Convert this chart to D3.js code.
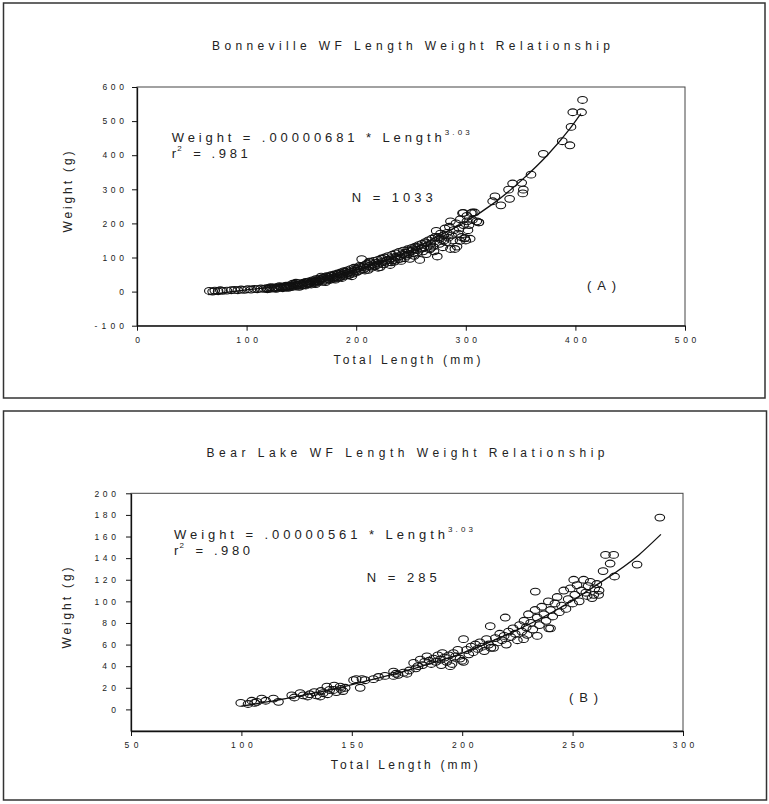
<!DOCTYPE html>
<html>
<head>
<meta charset="utf-8">
<script src="https://cdn.jsdelivr.net/npm/d3@7"></script>
<style>
	body { margin: 0; background: #fff; }
	text { font-family: "Liberation Sans", Arial, sans-serif; fill: #222; }
</style>
</head>
<body>
<script>

// ---- data ----

// Bonneville points [total length mm, weight g]
var bonnevillePoints = [
	[66,2],[69,0],[71,3],[74,1],[76,4],[78,2],[82,3],[86,4],[89,5],[92,4],[95,6],[98,5],[101,7],[104,6],
	[107,8],[110,7],[113,9],[116,8],[118,10],[119,7],
	[120,8],[121,11],[123,9],[125,12],[126,10],[128,13],[129,11],[131,14],[132,12],[134,15],[135,13],
	[136,17],[137,14],[138,11],[139,18],[140,16],[141,13],[142,19],[143,17],[144,22],[145,15],[146,20],
	[147,18],[148,25],[149,21],[150,17],[151,23],[152,26],[153,20],[154,28],[155,24],[156,22],[157,30],
	[158,26],[159,21],[160,33],
	[122,13],[127,8],[130,16],[133,10],[136,12],[139,15],[142,23],[145,26],[148,14],[151,19],[154,18],
	[157,23],[159,29],[163,22],[166,31],[169,39],[172,28],[175,36],[178,46],[181,35],[184,52],[187,40],
	[190,58],[193,48],[196,45],[199,66],[162,31],[168,35],[174,44],[180,42],[186,51],[192,55],
	[161,28],[162,25],[163,36],[164,30],[165,27],[166,38],[167,33],[168,44],[169,29],[170,40],[171,35],
	[172,32],[173,45],[174,38],[175,42],[176,34],[177,48],[178,40],[179,37],[180,50],[181,44],[182,39],
	[183,53],[184,46],[185,42],[186,56],[187,49],[188,45],[189,60],[190,52],[191,47],[192,62],[193,55],
	[194,50],[195,66],[196,58],[197,53],[198,70],[199,61],[200,56],
	[201,68],[202,60],[203,75],[205,95],[204,64],[206,72],[207,66],[208,78],[209,70],[210,82],[211,64],
	[212,75],[213,86],[214,70],[215,80],[216,90],[217,74],[218,84],[219,78],[220,93],[221,82],[222,72],
	[223,97],[224,87],[225,80],[226,100],[227,90],[228,85],[229,104],[230,93],[231,78],[232,98],[233,108],
	[234,92],[235,88],[236,112],[237,100],[238,95],[239,116],[240,104],[241,90],[242,110],[243,120],
	[244,98],[245,114],[246,105],[247,124],[248,110],[249,96],[250,118],
	[204,72],[208,62],[212,88],[216,76],[220,70],[224,96],[228,92],[232,86],[236,102],[240,96],[244,108],
	[248,120],[252,124],[256,130],[260,126],[264,142],[268,128],[272,160],[276,155],[280,150],
	[251,128],[252,112],[253,105],[254,132],[255,122],[256,115],[257,136],[258,93],[259,126],[260,140],
	[261,118],[262,130],[263,145],[264,110],[265,134],[266,150],[267,124],[268,140],[269,155],[270,132],
	[271,118],[272,148],[273,178],[274,103],[275,160],[276,140],[277,170],[278,152],[279,130],[280,165],
	[281,185],[282,145],[283,172],[284,158],[285,190],[286,206],[287,165],[288,150],[289,180],[290,125],
	[291,200],[292,132],[293,170],[294,185],[295,212],[296,160],[297,230],[298,195],[299,157],[300,150],
	[301,222],[302,180],[303,195],[304,155],[305,230],[306,210],[308,232],[310,206],[312,203],
	[294.7,149],[286,125],[299,156],[297.7,231],[306,232],[311.7,203],[301,206],[324.5,265],[326.6,279],
	[332,253],[339,299],[340,272],[342.7,317],[351,319],[352.5,299],[352,288],[359.5,343],[370.7,404],
	[388,441],[395,429],[396,483],[397.6,526],[405.6,526],[406.5,562]
];

// Bonneville fitted line, traced
var bonnevilleFit = [
	[65,-9],[80,-3],[100,5],[125,14],[150,26],[175,42],[200,63],[225,90],[250,122],[275,163],
	[300,205],[325,258],[350,324],[375,402],[395,478],[405,522]
];

// Bear Lake points [total length mm, weight g]
var bearLakePoints = [
	[99.7,6],[103,5],[104.7,8],[106,6],[107,7],[109.2,10],[111,8],[114.5,10],[116.8,7],[122.8,13],
	[124,11],[126.6,15],
	[128,13],[130,12],[131,14],[133,16],[134,13],[135.7,12],[136,17],[137,15],[138.7,21],[139,14],
	[140,18],[141.7,18],[142,22],[143,16],[144.7,21],[145,19],[146,17],[147,20],[150.8,27],[152,28],
	[153.8,20],[154.6,28],[156,27],[159.8,28],[162.1,30],
	[165,31],[168.9,35],[168.9,31],[170,33],[171,32],[173.4,34],[175,33],[176,36],[178,43],[179,38],
	[180,40],[181,46],[182,41],[183,44],[184,49],[185,45],[186,42],[187,47],[188,44],[189,50],[190,46],
	[190.5,41],[191,52],[192,48],[193,44],[194,50],[194.6,40],[195.4,42],[196,52],[197,49],[198,55],
	[199,47],[199.9,45],[200.6,65],[200.6,44],
	[202,55],[203,51],[204,58],[205,53],[206,60],[207,56],[208,62],[209,58],[210,54],[211,65],[212,60],
	[212.7,77],[213,57],[214.2,57],[215,66],[216,62],[217,70],[218,64],[219,68],[219.5,85],[220,60],
	[221,72],[222,67],[223,75],[224,70],[225,64],[226,78],[227,72],[227.8,65],[228,82],[229,76],
	[229.4,69],[230,88],[231,80],[232,74],[233,92],[233.1,109],[234,68],[234,85],[235,78],[236,95],
	[237,88],[238,82],[239,100],[239.2,75],[240,92],[240,75],
	[241,86],[242,98],[243,104],[244,90],[245,96],[246,110],[247,93],[248,102],[249,112],[250,98],
	[250.5,120],[251,106],[252,115],[253,100],[254,110],[255,120],[256,108],[256.6,105],[257,114],
	[258,118],[258.8,103],[259.6,106],[260,112],[261,116],[261.8,106],[262,110],[263.8,128],[264.9,143],
	[267,135],[268.6,143],[269,123],[279.2,134],[289.5,177.5]
];

// Bear Lake fitted line, traced
var bearLakeFit = [
	[100,3],[120,10],[140,18],[160,28],[180,39],[200,52],[220,69],[240,89],[260,114],[280,143],[290,162]
];

// tick values
var bonnevilleXTicks = [0, 100, 200, 300, 400, 500];
var bonnevilleYTicks = [-100, 0, 100, 200, 300, 400, 500, 600];
var bearLakeXTicks = [50, 100, 150, 200, 250, 300];
var bearLakeYTicks = [0, 20, 40, 60, 80, 100, 120, 140, 160, 180, 200];

// texts
var titles = ["Bonneville WF Length Weight Relationship", "Bear Lake WF Length Weight Relationship"];
var equations = ["Weight = .00000681 * Length", "Weight = .00000561 * Length"];
var rSquared = [".981", ".980"];
var sampleSizes = ["N = 1033", "N = 285"];
var panelTags = ["(A)", "(B)"];

// ---- drawing ----

var svg = d3.select("body")
	.append("svg")
	.attr("width", 769)
	.attr("height", 804);

// helper for a plain text
function addText(t, x, y, size, len, anchor) {
	var el = svg.append("text")
		.attr("x", x)
		.attr("y", y)
		.style("font-size", size + "px")
		.attr("text-anchor", anchor || "start")
		.text(t);
	if (len) el.attr("textLength", len).attr("lengthAdjust", "spacing");
	return el;
}

// tick labels are spread out wide in the scan
function styleTicks(g) {
	g.attr("font-size", null).attr("font-family", null);
	g.select(".domain").attr("stroke", "#111").attr("stroke-width", 1.3);
	g.selectAll(".tick line").attr("stroke", "#111");
	g.selectAll(".tick text")
		.style("font-size", "8.5px")
		.attr("fill", "#222")
		.attr("textLength", function() {
			var n = this.textContent.length;
			return n > 1 ? 7.8 * n - 1.8 : null;
		})
		.attr("lengthAdjust", "spacing");
}

function drawPanel(p) {
	// outer box round the panel
	svg.append("rect")
		.attr("x", p.box[0]).attr("y", p.box[1])
		.attr("width", p.box[2]).attr("height", p.box[3])
		.attr("fill", "none")
		.attr("stroke", "#333")
		.attr("stroke-width", 1.5);

	var x = d3.scaleLinear().domain(p.xDomain).range([p.left, p.right]);
	var y = d3.scaleLinear().domain(p.yDomain).range([p.bottom, p.top]);

	// plot frame (top and right side)
	svg.append("rect")
		.attr("x", p.left).attr("y", p.top)
		.attr("width", p.right - p.left).attr("height", p.bottom - p.top)
		.attr("fill", "none")
		.attr("stroke", "#444")
		.attr("stroke-width", 1);

	// scatter, open ellipses
	svg.append("g").selectAll("ellipse")
		.data(p.points)
		.enter()
		.append("ellipse")
		.attr("cx", function(d) { return x(d[0]); })
		.attr("cy", function(d) { return y(d[1]); })
		.attr("rx", 4.8)
		.attr("ry", 3.4)
		.attr("fill", "none")
		.attr("stroke", "#111")
		.attr("stroke-width", 1.1);

	// fitted line
	var line = d3.line()
		.x(function(d) { return x(d[0]); })
		.y(function(d) { return y(d[1]); })
		.curve(d3.curveMonotoneX);
	svg.append("path")
		.datum(p.fit)
		.attr("d", line)
		.attr("fill", "none")
		.attr("stroke", "#111")
		.attr("stroke-width", 1.3);

	// axes
	var xAxis = d3.axisBottom(x).tickValues(p.xTicks).tickSize(5).tickSizeOuter(0).tickPadding(6)
		.tickFormat(function(d) { return String(d); });
	var yAxis = d3.axisLeft(y).tickValues(p.yTicks).tickSize(5).tickSizeOuter(0).tickPadding(p.yPad)
		.tickFormat(function(d) { return String(d); });

	svg.append("g")
		.attr("transform", "translate(0," + p.bottom + ")")
		.call(xAxis)
		.call(styleTicks);
	svg.append("g")
		.attr("transform", "translate(" + p.left + ",0)")
		.call(yAxis)
		.call(styleTicks);

	// title and annotations
	addText(p.title, p.titleX, p.titleY, 12, 398, "middle");
	addText(p.eq, p.eqX, p.eqY, 13, p.eqLen);
	addText("3.03", p.eqX + p.eqLen + 3, p.eqY - 7.5, 8, 25);
	addText("r", p.eqX, p.eqY + 16, 13);
	addText("2", p.eqX + 5.5, p.eqY + 9, 8);
	addText("= " + p.r2, p.eqX + 21.5, p.eqY + 16, 13, 54.5);
	addText(p.n, p.nX, p.nY, 13, p.nLen);
	addText(p.tag, p.tagX, p.tagY, 13, 29);

	// axis titles
	addText("Total Length (mm)", p.xLabelX, p.xLabelY, 12, 147, "middle");
	svg.append("text")
		.attr("transform", "translate(" + p.yLabelX + "," + p.yLabelY + ") rotate(-90)")
		.attr("text-anchor", "middle")
		.style("font-size", "12px")
		.attr("textLength", 81)
		.attr("lengthAdjust", "spacing")
		.text("Weight (g)");
}

// panel A
drawPanel({
	box: [3.5, 3, 761.5, 395],
	left: 137, right: 685, top: 87, bottom: 325.7,
	xDomain: [0, 500], yDomain: [-100, 600],
	xTicks: bonnevilleXTicks, yTicks: bonnevilleYTicks, yPad: 8,
	points: bonnevillePoints, fit: bonnevilleFit,
	title: titles[0], titleX: 411, titleY: 50,
	eq: equations[0], eqX: 171.7, eqY: 142.3, eqLen: 270,
	r2: rSquared[0],
	n: sampleSizes[0], nX: 351.7, nY: 202.3, nLen: 81,
	tag: panelTags[0], tagX: 587, tagY: 290,
	xLabelX: 407, xLabelY: 364,
	yLabelX: 72, yLabelY: 192
});

// panel B
drawPanel({
	box: [3.5, 411, 763, 389],
	left: 131, right: 683, top: 493.3, bottom: 731,
	xDomain: [50, 300], yDomain: [-20, 200],
	xTicks: bearLakeXTicks, yTicks: bearLakeYTicks, yPad: 10,
	points: bearLakePoints, fit: bearLakeFit,
	title: titles[1], titleX: 405.5, titleY: 456.7,
	eq: equations[1], eqX: 174, eqY: 539, eqLen: 271,
	r2: rSquared[1],
	n: sampleSizes[1], nX: 366.7, nY: 582.3, nLen: 70,
	tag: panelTags[1], tagX: 569, tagY: 701.7,
	xLabelX: 404.3, xLabelY: 769.3,
	yLabelX: 71, yLabelY: 608
});

</script>
</body>
</html>
